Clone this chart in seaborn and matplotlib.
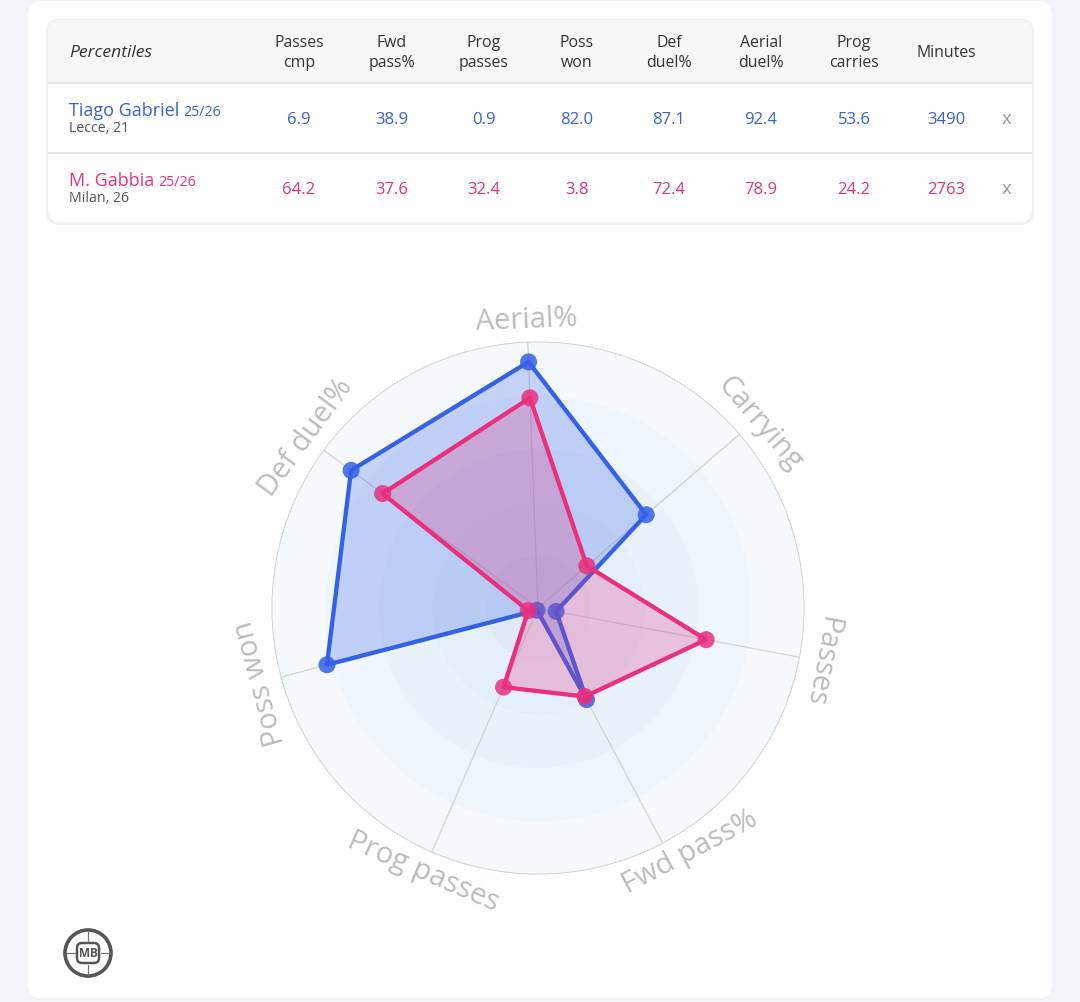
import numpy as np
import pandas as pd
import matplotlib
matplotlib.use("Agg")
import matplotlib.pyplot as plt
import seaborn as sns
from matplotlib.patches import FancyBboxPatch, Circle

# ---- data (percentiles table) ----
table_cols = ["Passes\ncmp", "Fwd\npass%", "Prog\npasses", "Poss\nwon",
              "Def\nduel%", "Aerial\nduel%", "Prog\ncarries", "Minutes"]
players = ["Tiago Gabriel", "M. Gabbia"]
seasons = ["25/26", "25/26"]
clubs = ["Lecce, 21", "Milan, 26"]
tiago_vals = [6.9, 38.9, 0.9, 82.0, 87.1, 92.4, 53.6]
gabbia_vals = [64.2, 37.6, 32.4, 3.8, 72.4, 78.9, 24.2]
minutes = [3490, 2763]

# radar axes, clockwise from the top, and which table column feeds each
radar_labels = ["Aerial%", "Carrying", "Passes", "Fwd pass%",
                "Prog passes", "Poss won", "Def duel%"]
radar_cols = [5, 6, 0, 1, 2, 3, 4]
label_nudge = {"Fwd pass%": -4.0, "Carrying": 1.0}  # degrees

colors = ["#3461e6", "#e8307f"]
text_colors = ["#3b62c4", "#d83682"]

sns.set_style("white")
plt.rcParams["font.family"] = ["Open Sans", "DejaVu Sans"]

W, H = 1080, 1002
fig = plt.figure(figsize=(W / 100, H / 100), dpi=100)
fig.patch.set_facecolor("#f3f4f9")

# background axes in pixel coordinates
bg = fig.add_axes([0, 0, 1, 1])
bg.set_xlim(0, W)
bg.set_ylim(H, 0)
bg.axis("off")

bg.add_patch(FancyBboxPatch((28, 1), 1024, 997, boxstyle="round,pad=0,rounding_size=14",
                            fc="white", ec="none"))
# table card with a soft shadow
bg.add_patch(FancyBboxPatch((46, 19), 988, 206, boxstyle="round,pad=0,rounding_size=13",
                            fc="#f1f1f3", ec="none"))
bg.add_patch(FancyBboxPatch((48, 20), 984, 202, boxstyle="round,pad=0,rounding_size=12",
                            fc="white", ec="none"))
bg.add_patch(FancyBboxPatch((48, 20), 984, 63, boxstyle="round,pad=0,rounding_size=12",
                            fc="#f7f7f7", ec="none"))
bg.add_patch(plt.Rectangle((48, 60), 984, 23, fc="#f7f7f7", ec="none"))
bg.plot([48, 1032], [83, 83], color="#e2e2e2", lw=1.2)
bg.plot([48, 1032], [153, 153], color="#e6e6e6", lw=1.2)

# header
bg.text(69, 53, "Percentiles", fontsize=12.6, style="italic", color="#333333",
        ha="left", va="center")
col_x = [299, 392, 484, 577, 669, 761, 854, 946]
for x, c in zip(col_x, table_cols):
    bg.text(x, 53, c, fontsize=11.4, color="#333333", ha="center", va="center",
            linespacing=1.3)

# rows
row_y = [118, 188]
all_vals = [tiago_vals, gabbia_vals]
for r, y in enumerate(row_y):
    t = bg.text(69, y - 2, players[r], fontsize=13, color=text_colors[r],
                ha="left", va="baseline")
    fig.canvas.draw()
    bb = t.get_window_extent()
    bg.text(69 + bb.width + 4, y - 2, seasons[r], fontsize=10.3, color=text_colors[r],
            ha="left", va="baseline")
    bg.text(69, y + 14, clubs[r], fontsize=10.2, color="#555555", ha="left", va="baseline")
    for x, v in zip(col_x[:-1], all_vals[r]):
        bg.text(x, y + 2, f"{v:.1f}", fontsize=12, color=text_colors[r],
                ha="center", va="center")
    bg.text(col_x[-1], y + 2, str(minutes[r]), fontsize=12, color=text_colors[r],
            ha="center", va="center")
    bg.text(1007, y + 1, "x", fontsize=13.5, color="#9a9a9a", ha="center", va="center")

# logo
bg.add_patch(Circle((88, 953), 23, fc="white", ec="#555555", lw=2.6))
bg.add_patch(FancyBboxPatch((77, 943), 22, 20, boxstyle="round,pad=0,rounding_size=5",
                            fc="white", ec="#555555", lw=1.8))
bg.text(88, 953.5, "MB", fontsize=8.5, fontweight="bold", color="#555555",
        ha="center", va="center")
for a in np.deg2rad([0, 90, 180, 270]):
    bg.plot([88 + 13 * np.cos(a), 88 + 22 * np.cos(a)],
            [953 + 12 * np.sin(a), 953 + 22 * np.sin(a)], color="#777777", lw=0.9)

# ---- radar ----
cx, cy, R = 538, 608, 266.5
ax = fig.add_axes([(cx - R) / W, (H - cy - R) / H, 2 * R / W, 2 * R / H], projection="polar")
ax.set_theta_zero_location("N")
ax.set_theta_direction(-1)
ax.patch.set_alpha(0)

n = len(radar_labels)
start = -2.2
angles_deg = [start + i * 360 / n for i in range(n)]
angles = np.deg2rad(angles_deg)

tt = np.linspace(0, 2 * np.pi, 361)
ring_edges = [0, 20, 40, 60, 80, 100]
ring_colors = ["#e0ebf6", "#e5eff8", "#e9f2f9", "#eef5fb", "#f5f9fc"]
for r0, r1, c in zip(ring_edges[:-1], ring_edges[1:], ring_colors):
    ax.fill_between(tt, r0, r1, color=c, lw=0, zorder=0)
for a in angles:
    ax.plot([a, a], [0, 100], color="#d2d2d2", lw=0.9, zorder=1)
ax.plot(tt, np.full_like(tt, 100), color="#cccccc", lw=1.2, zorder=1)

rows = []
for p, vals in zip(players, all_vals):
    radar_vals = [vals[c] for c in radar_cols]
    for k, (a, v) in enumerate(zip(list(angles) + [angles[0] + 2 * np.pi],
                                   radar_vals + [radar_vals[0]])):
        rows.append({"player": p, "theta": a, "value": v, "closing": k == n})
df = pd.DataFrame(rows)

for i, p in enumerate(players):
    sub = df[df["player"] == p]
    z = 3 + i * 3
    ax.fill(sub["theta"], sub["value"], color=colors[i], alpha=0.25, lw=0, zorder=z)
    sns.lineplot(data=sub, x="theta", y="value", sort=False, estimator=None,
                 color=colors[i], lw=3.1, ax=ax, zorder=z + 1)
    sns.scatterplot(data=sub[~sub["closing"]], x="theta", y="value", color=colors[i],
                    s=150, alpha=0.85, edgecolor="none", ax=ax, zorder=z + 2)

for a_deg, lab in zip(angles_deg, radar_labels):
    rot = -a_deg
    if 120 < a_deg < 240:
        rot += 180
    pos = a_deg + label_nudge.get(lab, 0.0)
    ax.text(np.deg2rad(pos), 108, lab, rotation=rot, rotation_mode="anchor",
            ha="center", va="center", fontsize=21, color="#bcbcbc", zorder=10)

ax.set_ylim(0, 100)
ax.set_xticks([])
ax.set_yticks([])
ax.grid(False)
ax.spines["polar"].set_visible(False)
ax.set_xlabel("")
ax.set_ylabel("")

fig.savefig("out.png", dpi=100)
